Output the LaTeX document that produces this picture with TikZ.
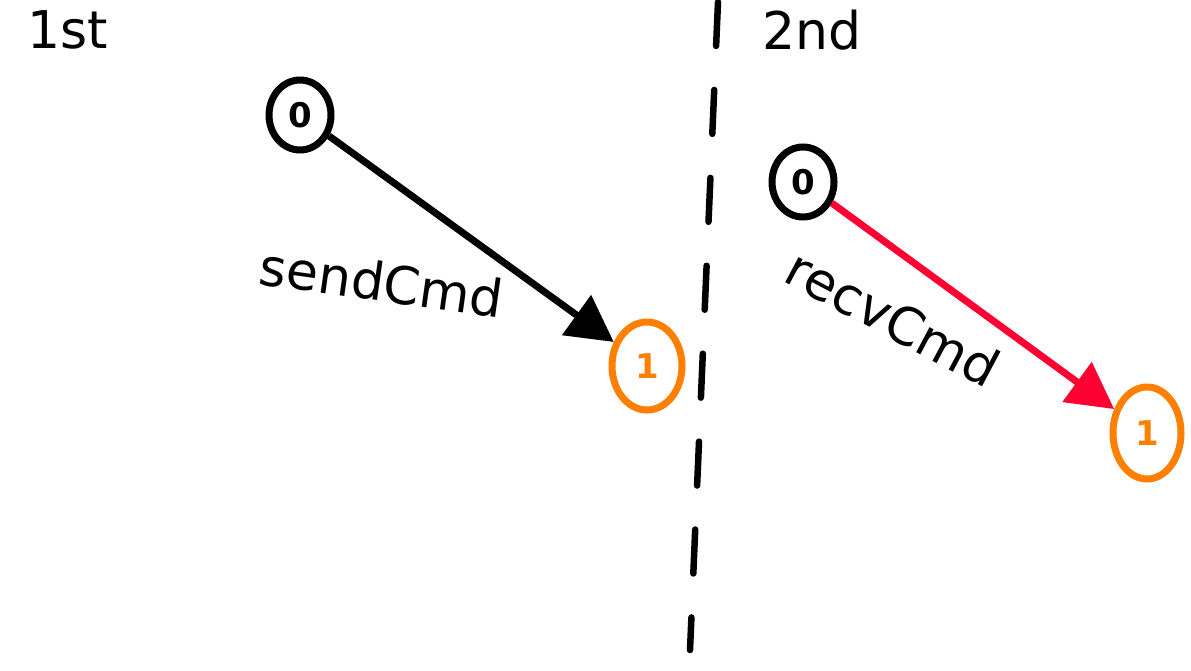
\documentclass[tikz,border=0pt]{standalone}
\usepackage{fontspec}
\setmainfont{DejaVu Sans}
\usetikzlibrary{arrows.meta,shapes.geometric}
\definecolor{orng}{HTML}{FF7F00}
\definecolor{rd}{HTML}{FF0033}
\begin{document}
\begin{tikzpicture}[x=1pt,y=-1pt,
  state/.style={ellipse,draw,line width=7pt,inner sep=0pt,font=\fontsize{34}{34}\selectfont\bfseries},
  lbl/.style={font=\fontsize{52}{52}\selectfont},
  conn/.style={line width=7pt,-{Triangle[length=46pt,width=48pt]}},
  divider/.style={line width=6.5pt,dash pattern=on 44pt off 44pt,line cap=round}]
\useasboundingbox (0,0) rectangle (1191,670);
\node[state,minimum width=62pt,minimum height=70pt] (a0) at (300,115) {0};
\node[state,draw=orng,text=orng,minimum width=70pt,minimum height=88pt] (a1) at (647,366) {1};
\node[state,minimum width=62pt,minimum height=70pt] (b0) at (803,182) {0};
\node[state,draw=orng,text=orng,minimum width=68pt,minimum height=92pt] (b1) at (1147,433) {1};
\draw[conn] (a0) -- (a1);
\draw[conn,draw=rd,fill=rd] (b0) -- (b1);
\coordinate (dtop) at (718,2);
\coordinate (dbot) at (690,650);
\draw[divider] (dtop) -- (dbot);
\node[lbl] (t1) at (68,30) {1st};
\node[lbl] (t2) at (812,30) {2nd};
\node[lbl,rotate=-8] (s1) at (382,282) {sendCmd};
\node[lbl,rotate=-28] (s2) at (893,318) {recvCmd};
\end{tikzpicture}
\end{document}
